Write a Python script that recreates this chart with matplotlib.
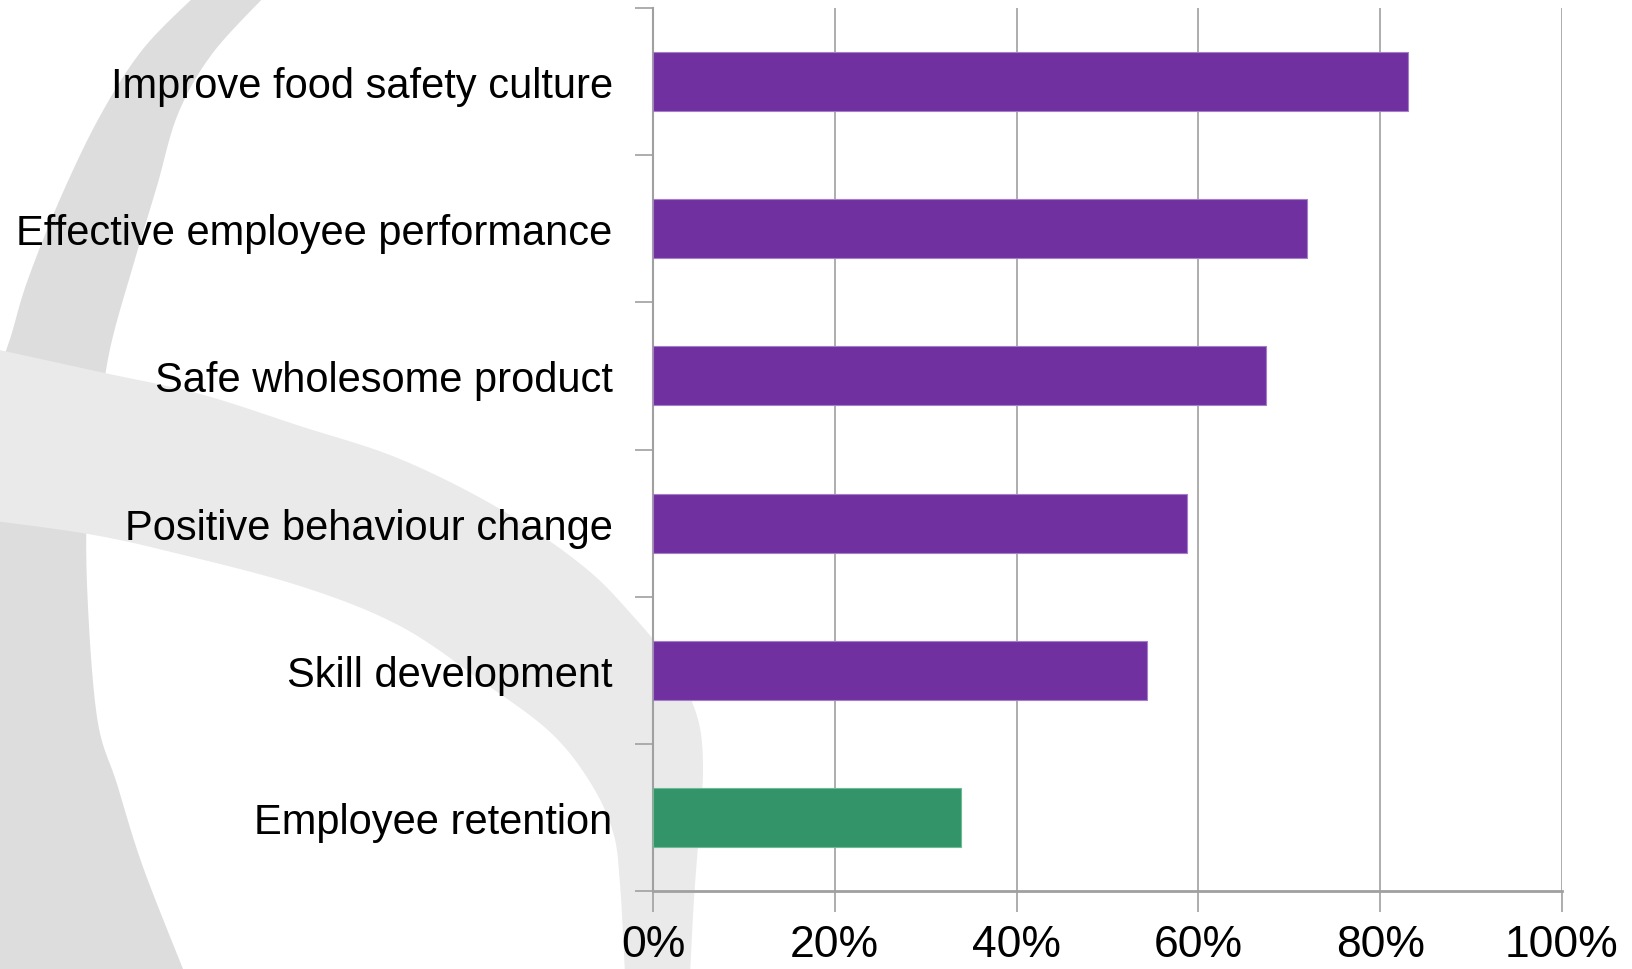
import matplotlib
matplotlib.use("Agg")
import matplotlib.pyplot as plt
from matplotlib.patches import Polygon
import numpy as np

# survey results (share of respondents)
categories = ["Improve food safety culture", "Effective employee performance",
              "Safe wholesome product", "Positive behaviour change",
              "Skill development", "Employee retention"]
values = [0.831, 0.720, 0.674, 0.588, 0.544, 0.339]
colors = ["#7030A0", "#7030A0", "#7030A0", "#7030A0", "#7030A0", "#339469"]
edges = ["#A37FC9", "#A37FC9", "#A37FC9", "#A37FC9", "#A37FC9", "#6DBB95"]
xticks = [0, 0.2, 0.4, 0.6, 0.8, 1.0]
xticklabels = ["0%", "20%", "40%", "60%", "80%", "100%"]


def smooth(pts, n=20):
    # catmull-rom through the outline points
    pts = np.asarray(pts, float)
    p = np.vstack([pts[0], pts, pts[-1]])
    out = []
    for i in range(1, len(p) - 2):
        p0, p1, p2, p3 = p[i - 1], p[i], p[i + 1], p[i + 2]
        for t in np.linspace(0, 1, n, endpoint=False):
            out.append(0.5 * ((2 * p1) + (-p0 + p2) * t
                              + (2 * p0 - 5 * p1 + 4 * p2 - p3) * t ** 2
                              + (-p0 + 3 * p1 - 3 * p2 + p3) * t ** 3))
    out.append(pts[-1])
    return np.array(out)


fig = plt.figure(figsize=(16.33, 9.70), dpi=100)
fig.patch.set_facecolor("white")

# decorative swooshes behind the chart (pixel coordinates)
bg = fig.add_axes([0, 0, 1, 1], zorder=0)
bg.set_xlim(0, 1633)
bg.set_ylim(970, 0)
bg.axis("off")

arc_out = smooth([(197, -5), (143, 50), (100, 117), (60, 200), (27, 283), (10, 340), (-5, 380)])
arc_in = smooth([(185, 975), (143, 868), (117, 785), (97, 718), (87, 585), (88, 485),
                 (97, 433), (110, 350), (133, 267), (157, 187), (178, 115), (212, 55), (267, -5)])
bg.add_patch(Polygon(np.vstack([arc_out, [(-5, 975)], arc_in]), closed=True,
                     facecolor="#DDDDDD", edgecolor="none"))

band_top = smooth([(-5, 350), (100, 373), (200, 395), (300, 427), (400, 460), (500, 510),
                   (583, 567), (633, 617), (673, 667), (697, 717), (703, 767),
                   (699, 833), (694, 900), (690, 975)])
band_bot = smooth([(625, 975), (620, 885), (613, 833), (590, 783), (550, 733),
                   (483, 683), (400, 627), (300, 587), (167, 552), (88, 535), (-5, 522)])
bg.add_patch(Polygon(np.vstack([band_top, band_bot]), closed=True,
                     facecolor="#EAEAEA", edgecolor="none"))

# bar chart
ax = fig.add_axes([653 / 1633, 1 - 892 / 970, 909 / 1633, 883 / 970], zorder=1)
ax.patch.set_alpha(0)
y = np.arange(len(categories))
ax.barh(y, values, height=0.4, color=colors, edgecolor=edges, linewidth=0.8, zorder=3)

ax.set_xlim(0, 1)
ax.set_ylim(len(categories) - 0.5, -0.5)
ax.set_xticks(xticks)
ax.set_xticklabels(xticklabels, family="Liberation Sans", fontsize=32)
ax.set_yticks(np.arange(-0.5, len(categories), 1.0))
ax.set_yticklabels([])
ax.set_yticks(y, minor=True)
ax.set_yticklabels(categories, minor=True, family="Liberation Sans", fontsize=30)
ax.tick_params(axis="y", which="minor", length=0, pad=29)
ax.tick_params(axis="y", which="major", length=13, width=1.2, color="#A0A0A0")
ax.tick_params(axis="x", length=15, width=1.2, color="#A0A0A0", pad=9)

ax.grid(axis="x", color="#A0A0A0", linewidth=1.2, zorder=0)
ax.set_axisbelow(True)
for side in ["top", "right"]:
    ax.spines[side].set_visible(False)
ax.spines["left"].set_color("#A0A0A0")
ax.spines["left"].set_linewidth(1.5)
ax.spines["bottom"].set_color("#A0A0A0")
ax.spines["bottom"].set_linewidth(2)

fig.savefig("out.png", dpi=100)
